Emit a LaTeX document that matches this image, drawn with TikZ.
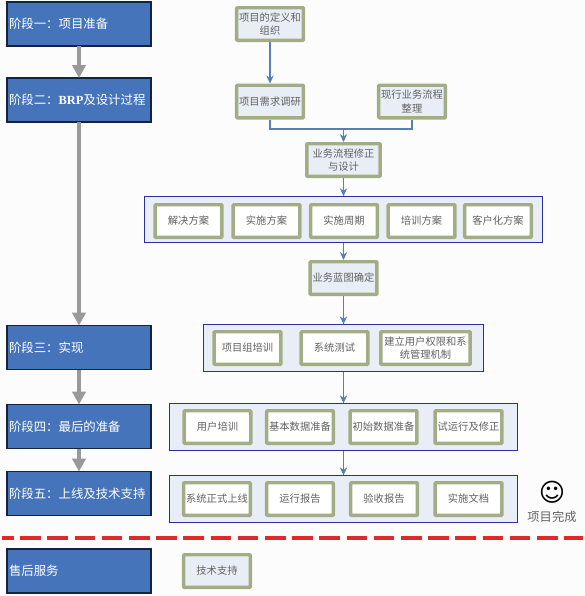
\documentclass[tikz,border=0pt]{standalone}
\usepackage{fontspec}
\setmainfont{Noto Sans CJK SC}
\newfontfamily\latinfont{Liberation Serif}
\newfontfamily\symbolfont{DejaVu Sans}
\usepackage{xcolor}
\usetikzlibrary{arrows.meta, positioning, calc}
\definecolor{PageWhite}{HTML}{FCFCFD}
\definecolor{StageBlue}{HTML}{4674BB}
\definecolor{StageEdge}{HTML}{14233F}
\definecolor{TaskFill}{HTML}{E9EEF6}
\definecolor{TaskEdge}{HTML}{A2AD85}
\definecolor{PanelEdge}{HTML}{2B2F96}
\definecolor{FlowBlue}{HTML}{5580B4}
\definecolor{DividerRed}{HTML}{DE2A2A}
\tikzstyle{stage} = [
  rectangle, draw=StageEdge, fill=StageBlue, line width=0.9pt,
  text=white, text width=105pt, inner xsep=1.5pt, align=left,
  minimum height=33pt, font=\fontsize{9.3}{11}\selectfont, outer sep=0pt
]
\tikzstyle{task} = [
  rectangle, draw=TaskEdge, fill=TaskFill, line width=2.6pt,
  minimum width=50pt, minimum height=24.4pt, inner sep=0pt,
  text=black!62, align=center, font=\fontsize{7.7}{10}\selectfont,
  rounded corners=0.6pt, outer sep=1.3pt
]
\tikzstyle{subtask} = [task, fill=white]
\tikzstyle{panel} = [
  rectangle, draw=PanelEdge, fill=TaskFill, line width=0.9pt,
  inner sep=0pt, outer sep=0pt
]
\tikzstyle{flow} = [-{Stealth[length=6pt,width=5.5pt]}, FlowBlue, line width=0.8pt]
\tikzstyle{stagearrow} = [-{Triangle[length=9.75pt,width=10pt]}, black!40, line width=3pt]

\begin{document}
\begin{tikzpicture}[x=0.75pt, y=-0.75pt]

  % Page
  \fill[PageWhite] (0,0) rectangle (585,596);
  \useasboundingbox (0,0) rectangle (585,596);

  % Stages
  \node[stage] (stage1) at (79,24) {阶段一^^^^ff1a项目准备};
  \node[stage] (stage2) at (79,100) {阶段二^^^^ff1a{\latinfont\bfseries BRP}及设计过程};
  \node[stage] (stage3) at (79,347.5) {阶段三^^^^ff1a实现};
  \node[stage] (stage4) at (79,426.5) {阶段四^^^^ff1a最后的准备};
  \node[stage] (stage5) at (79,493.5) {阶段五^^^^ff1a上线及技术支持};
  \node[stage] (service) at (79,571) {售后服务};

  % Stage arrows
  \draw[stagearrow] (stage1) -- (stage2);
  \draw[stagearrow] (stage2) -- (stage3);
  \draw[stagearrow] (stage3) -- (stage4);
  \draw[stagearrow] (stage4) -- (stage5);

  % Project start
  \node[task] (define) at (270,24) {项目的定义和\\组织};
  \node[task] (survey) at (270,101.5) {项目需求调研};
  \node[task] (current) at (412,101.5) {现行业务流程\\整理};
  \node[task, minimum width=55pt] (redesign) at (343.5,160) {业务流程修正\\与设计};
  \coordinate (merge) at (343.5,129);

  % Plans
  \node[panel, minimum width=298.5pt, minimum height=35pt] (plans) at (343.5,219.5) {};
  \node[subtask] (plan1) at (188.5,221) {解决方案};
  \node[subtask] (plan2) at (266.5,221) {实施方案};
  \node[subtask] (plan3) at (344,221) {实施周期};
  \node[subtask] (plan4) at (421.5,221) {培训方案};
  \node[subtask] (plan5) at (498,221) {客户化方案};
  \node[task] (blueprint) at (343.5,278) {业务蓝图确定};

  % Realisation
  \node[panel, minimum width=210.5pt, minimum height=35.5pt] (realise) at (343.5,348) {};
  \node[subtask] (team) at (247.5,348) {项目组培训};
  \node[subtask] (test) at (334.5,348) {系统测试};
  \node[subtask, minimum width=67pt] (rights) at (425.5,348) {建立用户权限和系\\统管理机制};

  % Final preparation
  \node[panel, minimum width=261pt, minimum height=35.5pt] (prepare) at (343.5,427) {};
  \node[subtask] (training) at (217.5,427) {用户培训};
  \node[subtask] (basedata) at (300,427) {基本数据准备};
  \node[subtask] (initdata) at (383.5,427) {初始数据准备};
  \node[subtask] (trialrun) at (468.5,427) {试运行及修正};

  % Go live
  \node[panel, minimum width=261pt, minimum height=35.5pt] (golive) at (343.5,499) {};
  \node[subtask] (launch) at (217,499) {系统正式上线};
  \node[subtask] (report) at (300,499) {运行报告};
  \node[subtask] (accept) at (384,499) {验收报告};
  \node[subtask] (docs) at (468.5,499) {实施文档};

  % Support
  \node[task] (support) at (217,571) {技术支持};

  % Flow connections
  \draw[flow] (define) -- (survey);
  \draw[FlowBlue, line width=0.8pt] (survey.south) |- (merge);
  \draw[FlowBlue, line width=0.8pt] (current.south) |- (merge);
  \draw[flow] (merge) -- (redesign);
  \draw[flow] (redesign) -- (plans);
  \draw[flow] (plans) -- (blueprint);
  \draw[flow] (blueprint) -- (realise);
  \draw[flow] (realise) -- (prepare);
  \draw[flow] (prepare) -- (golive);

  % Project done
  \node[font=\symbolfont\fontsize{19}{19}\selectfont, inner sep=0pt] (smile) at (552,492) {☺};
  \node[font=\fontsize{9.2}{11}\selectfont, text=black!62, inner sep=0pt] (done) at (552,517) {项目完成};

  % After-sales divider
  \coordinate (divleft) at (2,538);
  \coordinate (divright) at (583,538);
  \draw[DividerRed, line width=2.5pt, dash pattern=on 15.5pt off 4.9pt, dash phase=6.75pt] (divleft) -- (divright);

\end{tikzpicture}
\end{document}
